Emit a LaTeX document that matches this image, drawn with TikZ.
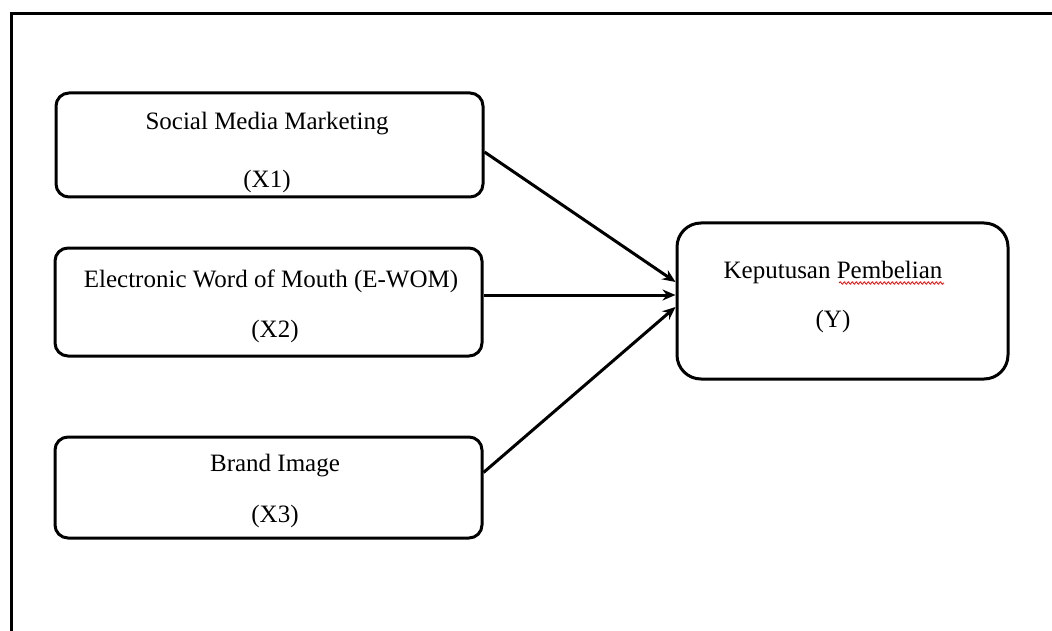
\documentclass[tikz,border=0pt]{standalone}
\usepackage{fontspec}
\setmainfont{Liberation Serif}
\usetikzlibrary{arrows.meta,decorations.pathmorphing}
\begin{document}
\begin{tikzpicture}[x=1pt,y=-1pt,
  varbox/.style={draw=black, line width=3pt, rounded corners=13pt, inner sep=0pt},
  txt/.style={inner sep=0pt, font=\fontsize{25}{30}\selectfont},
  link/.style={line width=3pt, -{Stealth[length=13pt,width=11pt]}}]
\useasboundingbox (0,0) rectangle (1052,631);
% outer frame (open at right and bottom)
\draw[line width=3pt] (11,640) -- (11,14) -- (1060,14);
% boxes
\node[varbox, minimum width=427pt, minimum height=104pt] (b1) at (269.5,145) {};
\node[txt] (b1t) at (267,123.5) {Social Media Marketing};
\node[txt] (b1x) at (267,181) {(X1)};
\node[varbox, minimum width=427pt, minimum height=108pt] (b2) at (268.5,302) {};
\node[txt] (b2t) at (271,281) {Electronic Word of Mouth (E-WOM)};
\node[txt] (b2x) at (275,331) {(X2)};
\node[varbox, minimum width=427pt, minimum height=101pt] (b3) at (268.5,487.5) {};
\node[txt] (b3t) at (275,466) {Brand Image};
\node[txt] (b3x) at (275,516) {(X3)};
\node[varbox, rounded corners=24pt, minimum width=331pt, minimum height=156pt] (y) at (842.5,301) {};
\node[txt] (yt) at (833,272) {Keputusan Pembelian};
\node[txt] (yx) at (833,321) {(Y)};
% spell-check underline
\draw[red, line width=0.8pt, decorate, decoration={snake, amplitude=1.2pt, segment length=4pt}] (839,283) -- (944,283);
% connectors
\draw[link] ([yshift=-7pt]b1.east) -- ([yshift=19pt]y.west);
\draw[link] ([yshift=7pt]b2.east) -- ([yshift=6pt]y.west);
\draw[link] ([yshift=15pt]b3.east) -- ([yshift=-6pt]y.west);
\end{tikzpicture}
\end{document}
